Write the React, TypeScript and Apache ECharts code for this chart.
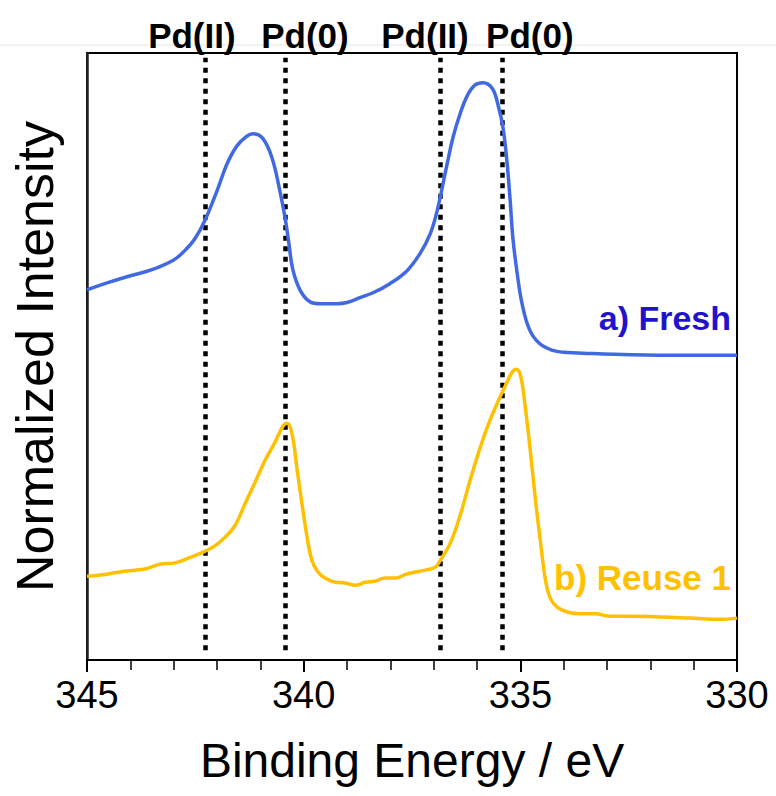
import React, { useEffect, useRef } from "react";
import * as echarts from "echarts";

// Binding energy (eV) and normalized intensity (a.u., 0–100 scale)
const freshEnergy = [
  345.0, 344.5, 344.0, 343.5, 343.0, 342.75, 342.51, 342.28, 342.0, 341.77,
  341.54, 341.31, 341.17, 340.94, 340.73, 340.55, 340.43, 340.34, 340.25, 340.08,
  339.85, 339.62, 339.23, 339.0, 338.7, 338.4, 338.01, 337.62, 337.32, 337.08,
  336.92, 336.69, 336.55, 336.39, 336.23, 336.05, 335.86, 335.65, 335.52, 335.4,
  335.31, 335.24, 335.17, 335.08, 334.96, 334.78, 334.55, 334.25, 334.0, 333.38,
  332.45, 331.3, 330.0,
];
const freshIntensity = [
  61.0, 62.2, 63.3, 64.3, 65.9, 67.4, 69.4, 72.4, 77.3, 81.7,
  84.7, 86.3, 86.7, 85.9, 82.7, 77.3, 72.9, 68.6, 64.3, 60.9,
  59.0, 58.7, 58.7, 58.9, 59.7, 60.5, 62.0, 64.1, 66.9, 70.2,
  74.0, 81.7, 86.2, 90.0, 92.9, 94.7, 95.1, 94.2, 91.6, 87.7,
  82.2, 76.2, 69.4, 64.1, 58.7, 54.3, 52.1, 51.0, 50.7, 50.5,
  50.3, 50.2, 50.2,
];

const reuseEnergy = [
  345.0, 344.7, 344.24, 343.89, 343.66, 343.31, 342.97, 342.62, 342.28, 342.05,
  341.82, 341.58, 341.35, 341.12, 340.89, 340.66, 340.48, 340.38, 340.27, 340.15,
  340.04, 339.92, 339.81, 339.67, 339.51, 339.27, 339.04, 338.81, 338.58, 338.35,
  338.12, 337.88, 337.65, 337.42, 337.19, 336.96, 336.85, 336.62, 336.39, 336.16,
  335.93, 335.7, 335.47, 335.31, 335.19, 335.1, 335.0, 334.89, 334.77, 334.65,
  334.54, 334.42, 334.31, 334.15, 333.92, 333.62, 333.27, 332.92, 332.45, 331.77,
  331.07, 330.38, 330.0,
];
const reuseIntensity = [
  13.8, 14.0, 14.5, 14.8, 15.0, 15.8, 16.0, 16.9, 17.9, 18.8,
  20.2, 22.2, 25.8, 29.3, 32.9, 35.9, 38.5, 39.0, 37.3, 31.3,
  25.8, 20.2, 16.4, 14.5, 13.5, 12.8, 12.7, 12.3, 12.8, 13.0,
  13.5, 13.5, 14.1, 14.5, 14.8, 15.3, 16.4, 19.2, 23.8, 29.6,
  34.9, 39.5, 43.3, 45.7, 47.4, 47.9, 47.0, 41.9, 34.5, 26.3,
  19.7, 13.2, 10.2, 8.7, 7.9, 7.6, 7.6, 7.2, 7.2, 7.1,
  6.9, 6.7, 6.9,
];

// Reference positions (eV) for Pd species
const refEnergies = [342.28, 340.43, 336.85, 335.42];
const refLabels = ["Pd(II)", "Pd(0)", "Pd(II)", "Pd(0)"];
const refLabelEnergies = [342.58, 339.97, 337.2, 334.78];

const xTicks = [345, 340, 335, 330];

const FONT = "Liberation Sans, Arial, Helvetica, sans-serif";

export default function App() {
  const ref = useRef<HTMLDivElement>(null);

  useEffect(() => {
    if (!ref.current) return;
    const chart = echarts.init(ref.current, null, { renderer: "svg" });

    const fresh = freshEnergy.map((e, i) => [e, freshIntensity[i]]);
    const reuse = reuseEnergy.map((e, i) => [e, reuseIntensity[i]]);

    chart.setOption({
      animation: false,
      backgroundColor: "#ffffff",
      grid: {
        left: 87,
        right: 39,
        top: 53,
        bottom: 136,
        show: true,
        borderColor: "#000",
        borderWidth: 2,
      },
      xAxis: {
        type: "value",
        min: 330,
        max: 345,
        interval: 5,
        inverse: true,
        axisLine: { show: true, lineStyle: { color: "#000", width: 2 } },
        axisTick: { show: true, inside: false, length: 12, lineStyle: { color: "#000", width: 2 } },
        minorTick: { show: true, splitNumber: 5, length: 10, lineStyle: { color: "#000", width: 1.5 } },
        splitLine: { show: false },
        axisLabel: {
          color: "#000",
          fontSize: 38,
          fontFamily: FONT,
          margin: 16,
          formatter: (v: number) => (xTicks.includes(v) ? String(v) : ""),
        },
        name: "Binding Energy / eV",
        nameLocation: "middle",
        nameGap: 76,
        nameTextStyle: { color: "#000", fontSize: 48, fontFamily: FONT },
      },
      yAxis: {
        type: "value",
        min: 0,
        max: 100,
        axisLine: { show: true, lineStyle: { color: "#222", width: 2.5 } },
        axisTick: { show: false },
        axisLabel: { show: false },
        splitLine: { show: false },
        name: "Normalized Intensity",
        nameLocation: "middle",
        nameGap: 26,
        nameTextStyle: { color: "#000", fontSize: 52, fontFamily: FONT },
      },
      series: [
        {
          type: "line",
          name: "a) Fresh",
          data: fresh,
          smooth: 0.4,
          showSymbol: false,
          lineStyle: { color: "#4169E1", width: 3.5 },
          z: 3,
          markLine: {
            silent: true,
            symbol: "none",
            label: { show: false },
            lineStyle: { color: "#000", width: 4.5, type: [5, 5.5] },
            data: refEnergies.map((e) => [{ coord: [e, 1.6] }, { coord: [e, 99.2] }]),
            z: 2,
          },
        },
        {
          type: "line",
          name: "b) Reuse 1",
          data: reuse,
          smooth: 0.4,
          showSymbol: false,
          lineStyle: { color: "#FFC000", width: 3.5 },
          z: 3,
        },
      ],
    });

    const labelY = 35;
    const graphics: any[] = [
      {
        type: "line",
        shape: { x1: 0, y1: 45, x2: 776, y2: 45 },
        style: { stroke: "#e4e4e4", lineWidth: 1 },
        silent: true,
      },
      {
        type: "text",
        right: 45,
        top: 301,
        style: { text: "a) Fresh", fill: "#1F14CC", font: `bold 34px ${FONT}` },
      },
      {
        type: "text",
        right: 45,
        top: 560,
        style: { text: "b) Reuse 1", fill: "#FFC000", font: `bold 35px ${FONT}` },
      },
    ];
    refLabelEnergies.forEach((e, i) => {
      const x = chart.convertToPixel({ xAxisIndex: 0 }, e) as number;
      graphics.push({
        type: "text",
        x,
        y: labelY,
        style: {
          text: refLabels[i],
          fill: "#000",
          font: `bold 35px ${FONT}`,
          textAlign: "center",
          textVerticalAlign: "middle",
        },
      });
    });
    chart.setOption({ graphic: graphics });

    return () => chart.dispose();
  }, []);

  return (
    <div
      ref={ref}
      style={{ position: "absolute", left: 0, top: 0, width: 776, height: 796 }}
    />
  );
}
